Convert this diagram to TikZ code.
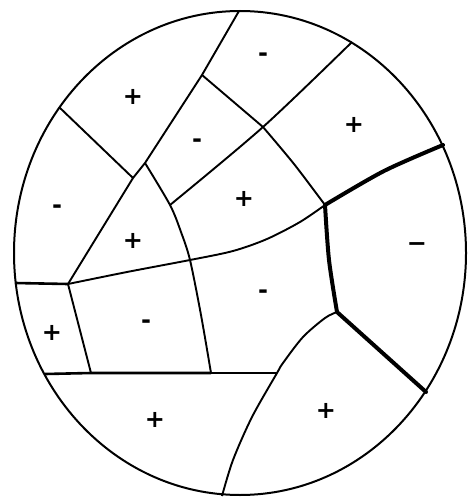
\documentclass[tikz,border=0pt]{standalone}
\usepackage{fontspec}
\newfontfamily\signfont{DejaVu Sans}
\usetikzlibrary{calc}
\begin{document}
\begin{tikzpicture}[x=1pt,y=-1pt,
  rim/.style={line width=2pt},
  wall/.style={line width=1.9pt,line join=round},
  heavy/.style={line width=4pt,line join=round,line cap=round},
  sign/.style={inner sep=0pt,font=\fontsize{24}{26}\signfont\bfseries}]
\useasboundingbox (0,0) rectangle (471,500);

% Outer boundary
\coordinate (Ctr) at (240,253);
\draw[rim] (Ctr) ellipse [x radius=226, y radius=-242];

% Vertices of the cells
\coordinate (T) at (239,11);
\coordinate (P) at (59,107);
\coordinate (A) at (133,178);
\coordinate (B) at (202,75);
\coordinate (C) at (263,127);
\coordinate (D) at (145,163);
\coordinate (E) at (170,205);
\coordinate (F) at (352,42);
\coordinate (G) at (325,205);
\coordinate (H) at (443,145);
\coordinate (I) at (337,312);
\coordinate (J) at (426,392);
\coordinate (K) at (68,284);
\coordinate (L) at (15,283);
\coordinate (M) at (190,260);
\coordinate (N) at (91,373);
\coordinate (O) at (211,373);
\coordinate (Q) at (45,374);
\coordinate (R) at (277,373);
\coordinate (S) at (222,496);

% Thin walls
\draw[wall] (T) -- (B) -- (D) -- (A) -- (K);
\draw[wall] (P) -- (A);
\draw[wall] (B) -- (C);
\draw[wall] plot[smooth] coordinates {(E) (C) (F)};
\draw[wall] plot[smooth] coordinates {(D) (E) (181,232) (M) (201,315) (O)};
\draw[wall] plot[smooth] coordinates {(C) (294,164) (G)};
\draw[wall] plot[smooth] coordinates {(G) (300,222) (267,239) (233,251) (M) (127,272) (K)};
\draw[wall] (K) -- (N);
\draw[wall] plot[smooth] coordinates {(I) (325,318) (303,337) (283,363) (R) (252,417) (233,460) (S)};
\draw[line width=2.6pt] (L) -- (K);
\draw[line width=2.6pt] (Q) -- (N) -- (O);
\draw[line width=2.2pt] (O) -- (R);

% Heavy walls
\draw[heavy] plot[smooth] coordinates {(G) (384,171) (H)};
\draw[heavy] plot[smooth] coordinates {(G) (329,260) (I)};
\draw[heavy] (I) -- (J);

% Signs
\node[sign] (s1) at (133,97) {+};
\node[sign] (s2) at (263,57) {-};
\node[sign] (s3) at (197,143) {-};
\node[sign] (s4) at (354,125) {+};
\node[sign] (s5) at (57,209) {-};
\node[sign] (s6) at (244,199) {+};
\node[sign] (s7) at (133,241) {+};
\node[sign] (s8) at (417,247) {−};
\node[sign] (s9) at (263,294) {-};
\node[sign] (s10) at (52,333) {+};
\node[sign] (s11) at (146,324) {-};
\node[sign] (s12) at (155,420) {+};
\node[sign] (s13) at (326,411) {+};
\end{tikzpicture}
\end{document}
